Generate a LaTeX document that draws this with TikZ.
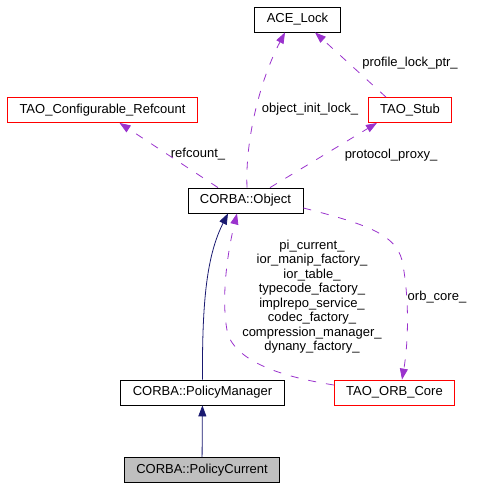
\documentclass[tikz,border=0pt]{standalone}
\usepackage{fontspec}
\setmainfont{Liberation Sans}
\usetikzlibrary{arrows.meta}
\definecolor{dorchid}{HTML}{9A32CD}
\definecolor{mnblue}{HTML}{191970}
\begin{document}
\begin{tikzpicture}[x=1pt,y=-1pt,
  font=\fontsize{13}{14.5}\selectfont,
  box/.style={draw=black,line width=0.8pt,inner xsep=12pt,inner ysep=0pt,minimum height=25pt},
  redbox/.style={box,draw=red},
  dep/.style={dorchid,line width=0.8pt,dash pattern=on 8pt off 10pt,-{Triangle[length=11pt,width=8pt]}},
  inh/.style={mnblue,line width=0.8pt,-{Triangle[length=11pt,width=8pt]}},
  lbl/.style={inner sep=0pt,align=center}]

  \useasboundingbox (0,0) rectangle (487,488);

  %klasser
	\node[box] (lock) at (297.5,19.5) {ACE\_Lock};
	\node[redbox] (stub) at (410,110) {TAO\_Stub};
	\node[redbox] (refc) at (102.5,110) {TAO\_Configurable\_Refcount};
	\node[box] (obj) at (245.5,200.5) {CORBA::Object};
	\node[box] (pman) at (202.5,392.5) {CORBA::PolicyManager};
	\node[redbox] (orb) at (394.5,392.5) {TAO\_ORB\_Core};
	\node[box,fill=black!25] (pcur) at (202,470) {CORBA::PolicyCurrent};

  %arv
	\draw[inh] (pcur) -- (pman);
	\draw[inh] (pman.north) .. controls (202,300) and (207,255) .. ([xshift=-17.5pt]obj.south);

  %medlemmer
	\draw[dep] ([xshift=-27.5pt]obj.north) -- ([xshift=17pt]refc.south);
	\draw[dep] ([xshift=1.5pt]obj.north) .. controls (245,140) and (260,80) .. ([xshift=-12.5pt]lock.south);
	\draw[dep] ([xshift=24.5pt]obj.north) -- ([xshift=-33pt]stub.south);
	\draw[dep] ([xshift=-24pt]stub.north) -- ([xshift=17.5pt]lock.south);
	\draw[dep] ([yshift=-7.5pt]obj.east) .. controls (370,225) and (395,235) .. (402,260)
	  .. controls (410,300) and (408,345) .. ([xshift=7.5pt]orb.north);
	\draw[dep] ([yshift=7.5pt]orb.west) .. controls (290,378) and (240,365) .. (228,335)
	  .. controls (220,300) and (228,250) .. ([xshift=-8.5pt]obj.south);

  %etiketter
	\node[lbl] (lrefc) at (198,154) {refcount\_};
	\node[lbl] (linit) at (310,109) {object\_init\_lock\_};
	\node[lbl] (lprox) at (391,155) {protocol\_proxy\_};
	\node[lbl] (lprof) at (410,63) {profile\_lock\_ptr\_};
	\node[lbl] (lorb) at (437,297) {orb\_core\_};
	\node[lbl] (lmany) at (312,296.5) {pi\_current\_\\ior\_manip\_factory\_\\ior\_table\_\\typecode\_factory\_\\implrepo\_service\_\\codec\_factory\_\\compression\_manager\_\\dynany\_factory\_};

\end{tikzpicture}
\end{document}
